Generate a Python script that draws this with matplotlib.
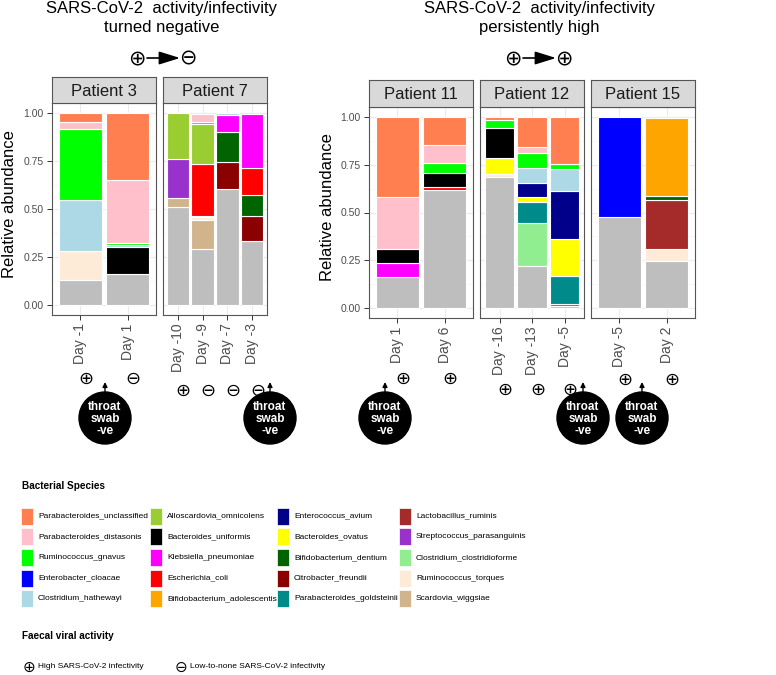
import numpy as np
import matplotlib
matplotlib.use('Agg')
import matplotlib.pyplot as plt
from matplotlib import font_manager
from matplotlib.patches import Ellipse, Rectangle
from matplotlib.ticker import MultipleLocator

# species in legend order (also stacking order from the top)
species = ['Parabacteroides_unclassified', 'Parabacteroides_distasonis', 'Ruminococcus_gnavus',
           'Enterobacter_cloacae', 'Clostridium_hathewayi', 'Alloscardovia_omnicolens',
           'Bacteroides_uniformis', 'Klebsiella_pneumoniae', 'Escherichia_coli',
           'Bifidobacterium_adolescentis', 'Enterococcus_avium', 'Bacteroides_ovatus',
           'Bifidobacterium_dentium', 'Citrobacter_freundii', 'Parabacteroides_goldsteinii',
           'Lactobacillus_ruminis', 'Streptococcus_parasanguinis', 'Clostridium_clostridioforme',
           'Ruminococcus_torques', 'Scardovia_wiggsiae']
species_colors = ['#FF7F50', '#FFC0CB', '#00FF00', '#0000FF', '#ADD8E6', '#9ACD32',
                  '#000000', '#FF00FF', '#FF0000', '#FFA500', '#00008B', '#FFFF00',
                  '#006400', '#8B0000', '#008B8B', '#A52A2A', '#9932CC', '#90EE90',
                  '#FDEBD7', '#D2B48C']
others_color = '#BEBEBE'

panels = ['Patient 3', 'Patient 7', 'Patient 11', 'Patient 12', 'Patient 15']
sample_panel = [0, 0, 1, 1, 1, 1, 2, 2, 3, 3, 3, 4, 4]
sample_day = ['Day -1', 'Day 1', 'Day -10', 'Day -9', 'Day -7', 'Day -3',
              'Day 1', 'Day 6', 'Day -16', 'Day -13', 'Day -5', 'Day -5', 'Day 2']
faecal_status = ['+', '-', '+', '-', '-', '-', '+', '+', '+', '+', '+', '+', '+']

# relative abundance, one row per species, one column per sample
others = [0.13, 0.165, 0.51, 0.29, 0.606, 0.334, 0.163, 0.616, 0.685, 0.223, 0.014, 0.478, 0.247]
abundance = np.array([
    [0.05, 0.348, 0, 0, 0, 0, 0.419, 0.147, 0.014, 0.155, 0.245, 0, 0],
    [0.035, 0.327, 0, 0.041, 0, 0, 0.27, 0.093, 0, 0.032, 0, 0, 0],
    [0.37, 0.01, 0, 0.012, 0, 0, 0, 0.054, 0.043, 0.077, 0.026, 0, 0],
    [0, 0, 0, 0, 0, 0, 0, 0, 0, 0, 0, 0.52, 0],
    [0.265, 0.01, 0, 0, 0.008, 0, 0, 0, 0, 0.078, 0.115, 0, 0],
    [0, 0, 0.24, 0.21, 0, 0, 0, 0, 0, 0, 0, 0, 0],
    [0, 0.14, 0, 0, 0, 0, 0.072, 0.072, 0.157, 0, 0, 0, 0],
    [0, 0, 0, 0, 0.088, 0.277, 0.076, 0, 0, 0, 0, 0, 0],
    [0, 0, 0, 0.266, 0, 0.143, 0, 0.018, 0, 0, 0, 0, 0],
    [0, 0, 0, 0, 0, 0, 0, 0, 0, 0, 0, 0, 0.406],
    [0, 0, 0, 0.006, 0, 0, 0, 0, 0, 0.075, 0.249, 0, 0],
    [0, 0, 0, 0, 0, 0, 0, 0, 0.081, 0.024, 0.192, 0, 0],
    [0, 0, 0, 0, 0.155, 0.11, 0, 0, 0, 0, 0, 0, 0.021],
    [0, 0, 0, 0, 0.139, 0.128, 0, 0, 0, 0, 0, 0, 0],
    [0, 0, 0, 0, 0, 0, 0, 0, 0, 0.114, 0.147, 0, 0],
    [0, 0, 0, 0, 0, 0, 0, 0, 0, 0, 0, 0, 0.256],
    [0, 0, 0.203, 0, 0, 0, 0, 0, 0, 0, 0.01, 0, 0],
    [0, 0, 0, 0, 0, 0, 0, 0, 0, 0.22, 0, 0, 0],
    [0.15, 0, 0, 0.018, 0, 0, 0, 0, 0.018, 0, 0, 0, 0.061],
    [0, 0, 0.047, 0.152, 0, 0, 0, 0, 0, 0, 0, 0, 0],
])

plt.rcParams['font.family'] = ['Liberation Sans', 'DejaVu Sans']
installed = {f.name for f in font_manager.fontManager.ttflist}
if 'Liberation Sans Narrow' in installed:
    narrow, nsize = ['Liberation Sans Narrow', 'DejaVu Sans'], 7.0
else:
    narrow, nsize = ['Liberation Sans', 'DejaVu Sans'], 6.0

W, H = 776, 675
fig = plt.figure(figsize=(W / 100, H / 100), dpi=100)


def frect(x0, y0, x1, y1):
    return [x0 / W, 1 - y1 / H, (x1 - x0) / W, (y1 - y0) / H]


# pixel boxes of the facet panels and strips
panel_box = [(52, 103, 156, 315), (163, 103, 267, 315),
             (369, 107, 473, 318), (480, 107, 584, 318), (591, 107, 695, 318)]
strip_h = [26, 26, 27, 27, 27]
sym_y = [379, 391, 379, 390, 380]
border = '#555555'
tick_px = []

for p, name in enumerate(panels):
    idx = [i for i in range(len(sample_day)) if sample_panel[i] == p]
    n = len(idx)
    x0, y0, x1, y1 = panel_box[p]
    ax = fig.add_axes(frect(x0, y0, x1, y1))
    x = np.arange(1, n + 1)
    bottom = np.array(others)[idx].astype(float)
    ax.bar(x, bottom, 0.9, color=others_color, edgecolor='white', linewidth=0.8, zorder=2)
    for s in reversed(range(len(species))):
        vals = abundance[s][idx]
        m = vals > 0
        if m.any():
            ax.bar(x[m], vals[m], 0.9, bottom=bottom[m], color=species_colors[s],
                   edgecolor='white', linewidth=0.8, zorder=2)
        bottom = bottom + vals
    ax.set_xlim(0.4, n + 0.6)
    ax.set_ylim(-0.05, 1.05)
    ax.set_yticks([0, 0.25, 0.5, 0.75, 1.0])
    ax.yaxis.set_minor_locator(MultipleLocator(0.125))
    ax.set_axisbelow(True)
    ax.grid(which='major', color='#EBEBEB', linewidth=0.8, zorder=0)
    ax.grid(which='minor', axis='y', color='#F4F4F4', linewidth=0.5, zorder=0)
    ax.set_xticks(x)
    ax.set_xticklabels([sample_day[i] for i in idx], rotation=90, fontsize=10, color='#4D4D4D')
    ax.tick_params(which='minor', length=0)
    ax.tick_params(which='major', length=3.5, width=0.7, color='#333333', pad=2.5)
    if p in (0, 2):
        ax.set_yticklabels(['0.00', '0.25', '0.50', '0.75', '1.00'], fontsize=7.5, color='#4D4D4D')
    else:
        ax.tick_params(axis='y', length=0, labelleft=False)
    for sp in ax.spines.values():
        sp.set_color(border)
        sp.set_linewidth(0.8)
    sax = fig.add_axes(frect(x0, y0 - strip_h[p], x1, y0))
    sax.set_facecolor('#D9D9D9')
    sax.set_xticks([])
    sax.set_yticks([])
    for sp in sax.spines.values():
        sp.set_color(border)
        sp.set_linewidth(0.8)
    sax.text(0.5, 0.45, name, ha='center', va='center', fontsize=12, color='#1A1A1A',
             transform=sax.transAxes)
    # pixel x of each bar for the status symbols
    for k in range(n):
        tick_px.append((idx[k], x0 + (k + 0.6) / (n + 0.2) * (x1 - x0), sym_y[p]))

fig.text(10 / W, 1 - 204 / H, 'Relative abundance', rotation=90, ha='center', va='center', fontsize=12)
fig.text(327 / W, 1 - 207 / H, 'Relative abundance', rotation=90, ha='center', va='center', fontsize=12)

# overlay in pixel coordinates for annotations and legend
ov = fig.add_axes([0, 0, 1, 1])
ov.set_xlim(0, W)
ov.set_ylim(H, 0)
ov.axis('off')
ov.patch.set_visible(False)

ov.text(162, 18, 'SARS-CoV-2  activity/infectivity\nturned negative', ha='center', va='center',
        fontsize=12, linespacing=1.3)
ov.text(539, 18, 'SARS-CoV-2  activity/infectivity\npersistently high', ha='center', va='center',
        fontsize=12, linespacing=1.3)

for left, right, cx in [('⊕', '⊖', 162), ('⊕', '⊕', 538)]:
    ov.text(cx - 25, 58, left, ha='center', va='center', fontsize=15, family='DejaVu Sans')
    ov.text(cx + 26, 58, right, ha='center', va='center', fontsize=15, family='DejaVu Sans')
    ov.annotate('', xy=(cx + 18, 58), xytext=(cx - 15, 58),
                arrowprops=dict(arrowstyle='-|>,head_length=0.8,head_width=0.25', mutation_scale=16,
                                color='black', lw=1.2, shrinkA=0, shrinkB=0))

for i, xp, yp in tick_px:
    ov.text(xp + 5.5, yp, '⊕' if faecal_status[i] == '+' else '⊖', ha='center', va='center',
            fontsize=13, family='DejaVu Sans')

# throat swab negative markers
for cx in [105, 270, 385, 583, 642]:
    ov.add_patch(Ellipse((cx, 418), 52, 52, color='black'))
    ov.annotate('', xy=(cx, 382), xytext=(cx, 393),
                arrowprops=dict(arrowstyle='-|>', mutation_scale=7, color='black', lw=1,
                                shrinkA=0, shrinkB=0))
    ov.text(cx, 419, 'throat\nswab\n-ve', ha='center', va='center', color='white',
            fontsize=8.5, fontweight='bold', family=narrow, linespacing=1.05)

# legend
ov.text(22, 486, 'Bacterial Species', ha='left', va='center', fontsize=nsize + 1.2,
        fontweight='bold', family=narrow)
col_x = [21, 150, 277, 399]
for s, name in enumerate(species):
    c, r = divmod(s, 5)
    yc = 516 + r * 20.7
    ov.add_patch(Rectangle((col_x[c], yc - 8.5), 12, 17, facecolor=species_colors[s],
                           edgecolor='white', lw=0.5))
    ov.text(col_x[c] + 17, yc, name, ha='left', va='center', fontsize=nsize, family=narrow)

ov.text(22, 636, 'Faecal viral activity', ha='left', va='center', fontsize=nsize + 1.2,
        fontweight='bold', family=narrow)
ov.text(28.5, 667, '⊕', ha='center', va='center', fontsize=11, family='DejaVu Sans')
ov.text(38, 667, 'High SARS-CoV-2 infectivity', ha='left', va='center', fontsize=nsize, family=narrow)
ov.text(181, 667, '⊖', ha='center', va='center', fontsize=11, family='DejaVu Sans')
ov.text(190, 667, 'Low-to-none SARS-CoV-2 infectivity', ha='left', va='center', fontsize=nsize,
        family=narrow)

fig.savefig('out.png', dpi=100)
